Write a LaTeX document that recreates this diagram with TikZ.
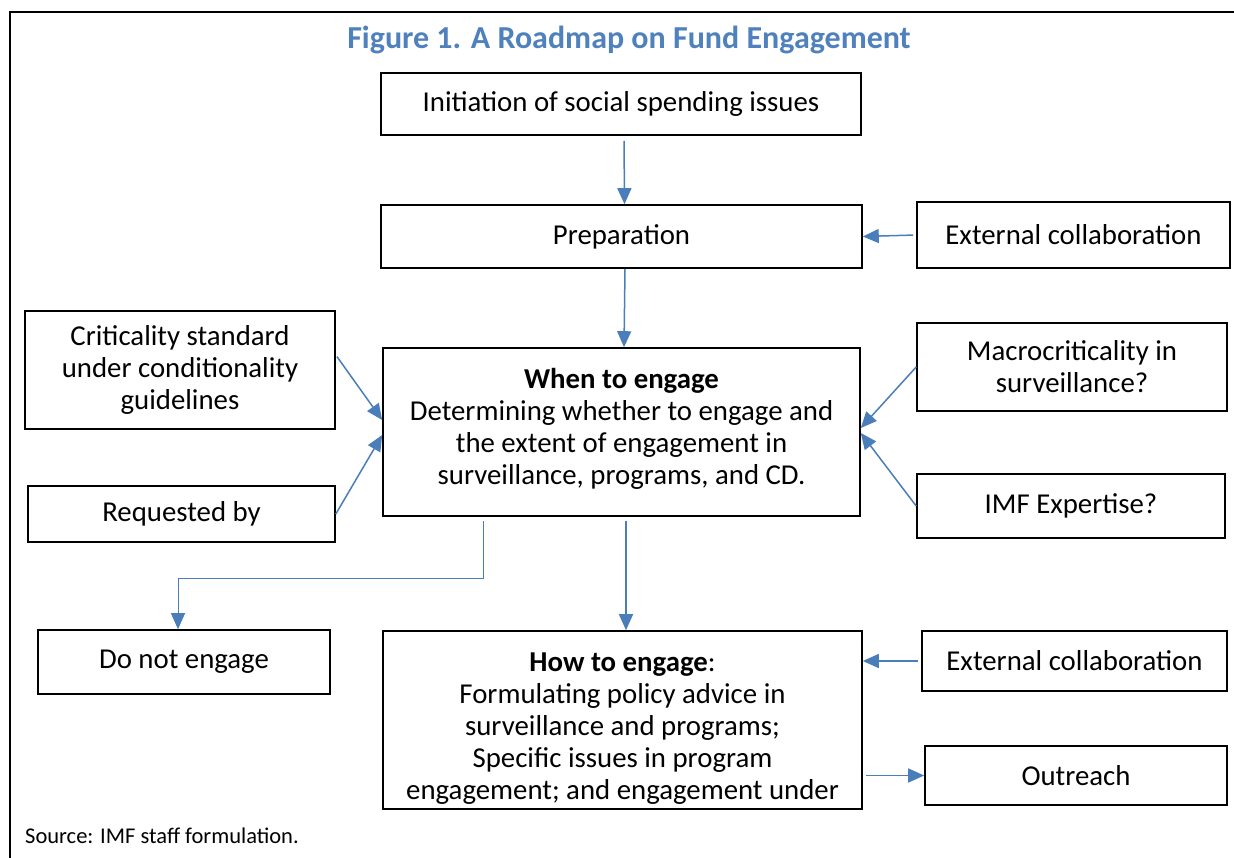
\documentclass[tikz,border=0pt]{standalone}
\usepackage{fontspec}
\setmainfont{Carlito}
\usetikzlibrary{arrows.meta}
\definecolor{arr}{RGB}{74,126,187}
\definecolor{ttl}{RGB}{79,129,189}
\begin{document}
\begin{tikzpicture}[x=1pt,y=-1pt,
  box/.style={draw=black, line width=1.6pt, align=center, inner sep=0pt, font=\fontsize{28.8}{32}\selectfont},
  conn/.style={draw=arr, line width=1.5pt, -{Triangle[length=16pt,width=14pt]}},
  thinconn/.style={draw=arr, line width=1pt, -{Triangle[length=16pt,width=14pt]}},
]
\useasboundingbox (0,0) rectangle (1234,858);
\clip (0,0) rectangle (1234,858);
\draw[line width=1.5pt] (10,870) -- (10,12) -- (1250,12);

\node[anchor=base, font=\bfseries\fontsize{32}{36}\selectfont, text=ttl] (title) at (629,49) {Figure 1. A Roadmap on Fund Engagement};

\node[box, minimum width=480pt, minimum height=62pt] (init) at (621,104) {Initiation of social spending issues};
\node[box, minimum width=481pt, minimum height=63pt] (prep) at (621.5,236.5) {Preparation};
\node[box, minimum width=313pt, minimum height=66pt] (ext1) at (1073.5,235) {External collaboration};
\node[box, minimum width=310pt, minimum height=118pt] (crit) at (180,370) {Criticality standard\\under conditionality\\guidelines};
\node[box, minimum width=477pt, minimum height=168pt] (when) at (621.5,432) {\textbf{When to engage}\\Determining whether to engage and\\the extent of engagement in\\surveillance, programs, and CD.\\[-20pt]};
\node[box, minimum width=310pt, minimum height=88pt] (macro) at (1072,367) {Macrocriticality in\\surveillance?};
\node[box, minimum width=307pt, minimum height=56pt] (req) at (181.5,514) {Requested by};
\node[box, minimum width=308pt, minimum height=64pt] (imf) at (1071,506) {IMF Expertise?};
\node[box, minimum width=292pt, minimum height=64pt] (dne) at (184,662) {Do not engage};
\node[box, minimum width=479pt, minimum height=178pt] (how) at (622.5,720) {\textbf{How to engage}:\\Formulating policy advice in\\surveillance and programs;\\Specific issues in program\\engagement; and engagement under\\[-44pt]};
\node[box, minimum width=305pt, minimum height=60pt] (ext2) at (1074.5,661) {External collaboration};
\node[box, minimum width=302pt, minimum height=59pt] (out) at (1076,775.5) {Outreach};

\node[anchor=base west, inner sep=0pt, font=\fontsize{22.5}{26}\selectfont] (src) at (25,843) {Source: IMF staff formulation.};

\draw[conn, shorten <=5pt] ([xshift=3pt]init.south) -- ([xshift=3pt]prep.north);
\draw[conn, shorten <=3pt] (ext1.west) -- (prep.east);
\draw[conn] ([xshift=3.5pt]prep.south) -- ([xshift=2.5pt]when.north);
\draw[conn, shorten <=2pt] ([yshift=15pt]crit.east) -- ([yshift=12pt]when.west);
\draw[conn] (req.east) -- ([yshift=-3pt]when.west);
\draw[conn] (macro.west) -- ([yshift=4pt]when.east);
\draw[conn] (imf.west) -- ([yshift=-1pt]when.east);
\draw[thinconn, shorten <=4pt] ([xshift=-138.5pt]when.south) -- ++(0,62) -| ([xshift=-6pt]dne.north);
\draw[conn, shorten <=4pt] ([xshift=4.5pt]when.south) -- ([xshift=3.5pt]how.north);
\draw[conn, shorten <=3pt] (ext2.west) -- (ext2.west -| how.east);
\draw[conn, shorten <=3pt] (how.east |- out.west) -- (out.west);
\end{tikzpicture}
\end{document}
